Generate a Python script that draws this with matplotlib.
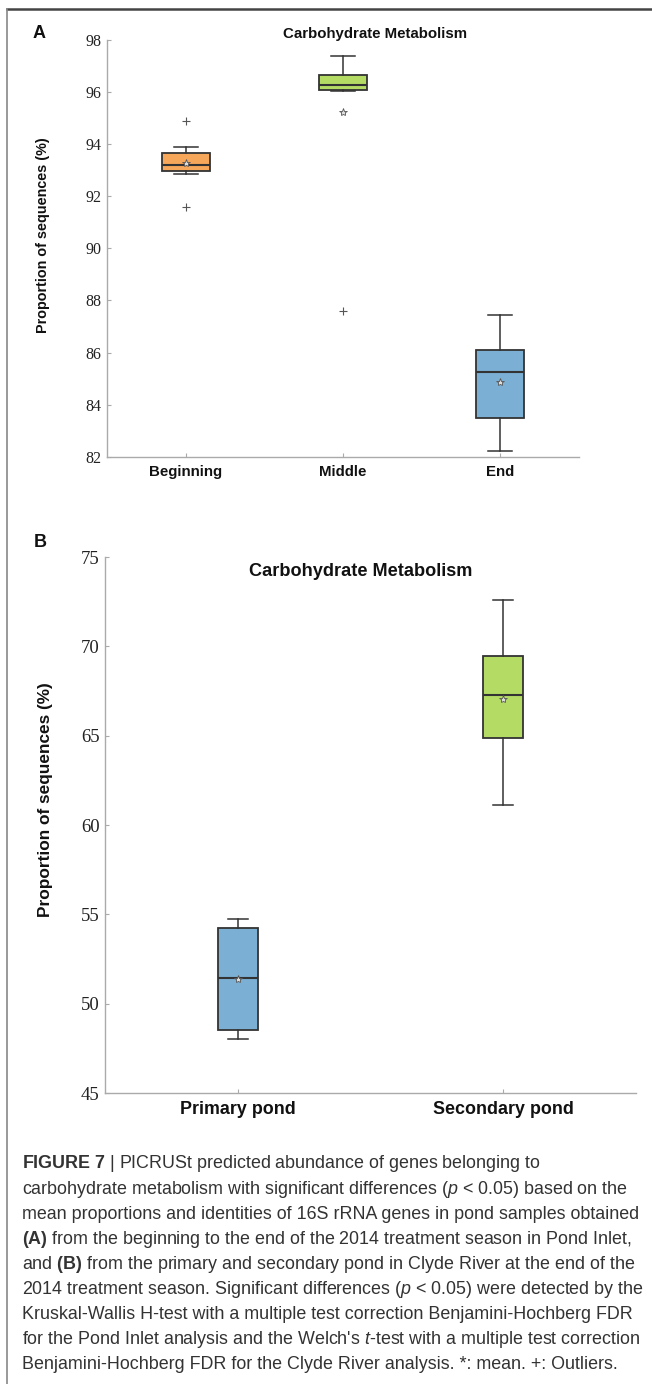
import matplotlib
matplotlib.use('Agg')
import matplotlib.pyplot as plt
from matplotlib.lines import Line2D

# Datos del panel A (Pond Inlet)
stages = ['Beginning', 'Middle', 'End']
a_q1 = [92.95, 96.07, 83.49]
a_med = [93.19, 96.24, 85.25]
a_q3 = [93.66, 96.63, 86.11]
a_lo = [92.86, 96.01, 82.24]
a_hi = [93.89, 97.36, 87.45]
a_mean = [93.28, 95.24, 84.86]
a_fliers = [[94.86, 91.58], [87.6], []]
a_colors = ['#F6A75A', '#B4DC64', '#7BAFD4']
a_ticks = [82, 84, 86, 88, 90, 92, 94, 96, 98]

# Datos del panel B (Clyde River)
ponds = ['Primary pond', 'Secondary pond']
b_q1 = [48.53, 64.87]
b_med = [51.43, 67.30]
b_q3 = [54.26, 69.47]
b_lo = [48.00, 61.13]
b_hi = [54.74, 72.57]
b_mean = [51.40, 67.05]
b_fliers = [[], []]
b_colors = ['#7BAFD4', '#B4DC64']
b_ticks = [45, 50, 55, 60, 65, 70, 75]

caption = [
    r"$\mathbf{FIGURE\ 7}$ | PICRUSt predicted abundance of genes belonging to",
    r"carbohydrate metabolism with significant differences ($\mathit{p}$ < 0.05) based on the",
    "mean proportions and identities of 16S rRNA genes in pond samples obtained",
    r"$\mathbf{(A)}$ from the beginning to the end of the 2014 treatment season in Pond Inlet,",
    r"and $\mathbf{(B)}$ from the primary and secondary pond in Clyde River at the end of the",
    r"2014 treatment season. Significant differences ($\mathit{p}$ < 0.05) were detected by the",
    "Kruskal-Wallis H-test with a multiple test correction Benjamini-Hochberg FDR",
    r"for the Pond Inlet analysis and the Welch's $\mathit{t}$-test with a multiple test correction",
    "Benjamini-Hochberg FDR for the Clyde River analysis. *: mean. +: Outliers.",
]

W, H = 652, 1384
plt.rcParams['mathtext.fontset'] = 'custom'
plt.rcParams['mathtext.rm'] = 'Liberation Sans'
plt.rcParams['mathtext.bf'] = 'Liberation Sans:bold'
plt.rcParams['mathtext.it'] = 'Liberation Sans:italic'

bold_font = ['Liberation Sans', 'DejaVu Sans']
serif_font = ['Liberation Serif', 'DejaVu Serif']


def fx(x):
    return x / W


def fy(y):
    return 1 - y / H


def make_stats(labels, q1, med, q3, lo, hi, mean, fliers):
    stats = []
    for i in range(len(labels)):
        stats.append(dict(label=labels[i], q1=q1[i], med=med[i], q3=q3[i],
                          whislo=lo[i], whishi=hi[i], mean=mean[i],
                          fliers=fliers[i]))
    return stats


def draw_panel(ax, stats, colors, width, ticks, tick_size, label_size):
    bp = ax.bxp(stats, positions=range(1, len(stats) + 1), widths=width,
                patch_artist=True, showmeans=True,
                boxprops=dict(edgecolor='#333333', linewidth=1.3),
                medianprops=dict(color='#333333', linewidth=1.5),
                whiskerprops=dict(color='#333333', linewidth=1.1),
                capprops=dict(color='#333333', linewidth=1.1),
                meanprops=dict(marker='*', markersize=6, markerfacecolor='#dddddd',
                               markeredgecolor='#555555', markeredgewidth=0.6),
                flierprops=dict(marker='+', markersize=6, markeredgecolor='#555555',
                                markeredgewidth=0.8))
    for patch, c in zip(bp['boxes'], colors):
        patch.set_facecolor(c)
    ax.set_xlim(0.5, len(stats) + 0.5)
    ax.set_ylim(ticks[0], ticks[-1])
    ax.set_yticks(ticks)
    ax.set_yticklabels([str(t) for t in ticks], fontfamily=serif_font,
                       fontsize=tick_size, color='#222222')
    ax.set_xticklabels([s['label'] for s in stats], fontfamily=bold_font,
                       fontweight='bold', fontsize=label_size, color='#111111')
    for side in ['top', 'right']:
        ax.spines[side].set_visible(False)
    for side in ['left', 'bottom']:
        ax.spines[side].set_color('#aaaaaa')
        ax.spines[side].set_linewidth(1.0)
    ax.tick_params(axis='both', direction='in', length=3, color='#aaaaaa')
    ax.tick_params(axis='y', pad=4)
    ax.tick_params(axis='x', pad=6)


fig = plt.figure(figsize=(W / 100, H / 100), dpi=100)

# Panel A
axA = fig.add_axes([fx(107), fy(457), (579 - 107) / W, (457 - 39.5) / H])
draw_panel(axA, make_stats(stages, a_q1, a_med, a_q3, a_lo, a_hi, a_mean, a_fliers),
           a_colors, 0.305, a_ticks, 11.5, 10.8)

# Panel B
axB = fig.add_axes([fx(105), fy(1093), (636 - 105) / W, (1093 - 557) / H])
draw_panel(axB, make_stats(ponds, b_q1, b_med, b_q3, b_lo, b_hi, b_mean, b_fliers),
           b_colors, 0.152, b_ticks, 13.5, 12.9)

# Títulos y etiquetas
fig.text(fx(375), fy(34), 'Carbohydrate Metabolism', ha='center', va='center',
         fontfamily=bold_font, fontweight='bold', fontsize=10.8, color='#111111')
fig.text(fx(361), fy(572), 'Carbohydrate Metabolism', ha='center', va='center',
         fontfamily=bold_font, fontweight='bold', fontsize=13.1, color='#111111')
fig.text(fx(43), fy(235), 'Proportion of sequences (%)', rotation=90, ha='center',
         va='center', fontfamily=bold_font, fontweight='bold', fontsize=10.4,
         color='#111111')
fig.text(fx(45.5), fy(800), 'Proportion of sequences (%)', rotation=90, ha='center',
         va='center', fontfamily=bold_font, fontweight='bold', fontsize=12.4,
         color='#111111')
fig.text(fx(39), fy(34), 'A', ha='center', va='center', fontfamily='Liberation Sans',
         fontweight='bold', fontsize=13, color='#111111')
fig.text(fx(40), fy(542), 'B', ha='center', va='center', fontfamily='Liberation Sans',
         fontweight='bold', fontsize=13, color='#111111')

# Leyenda de la figura
for i, line in enumerate(caption):
    fig.text(fx(22), fy(1164 + i * 25.1), line, ha='left', va='center',
             fontfamily='Liberation Sans', fontsize=12.9, color='#333333')

# Marco
fig.add_artist(Line2D([fx(7), 1], [fy(9), fy(9)], color='#444444', linewidth=1.8))
fig.add_artist(Line2D([fx(7), fx(7)], [fy(9), 0], color='#888888', linewidth=1.2))

fig.savefig('out.png', dpi=100)
